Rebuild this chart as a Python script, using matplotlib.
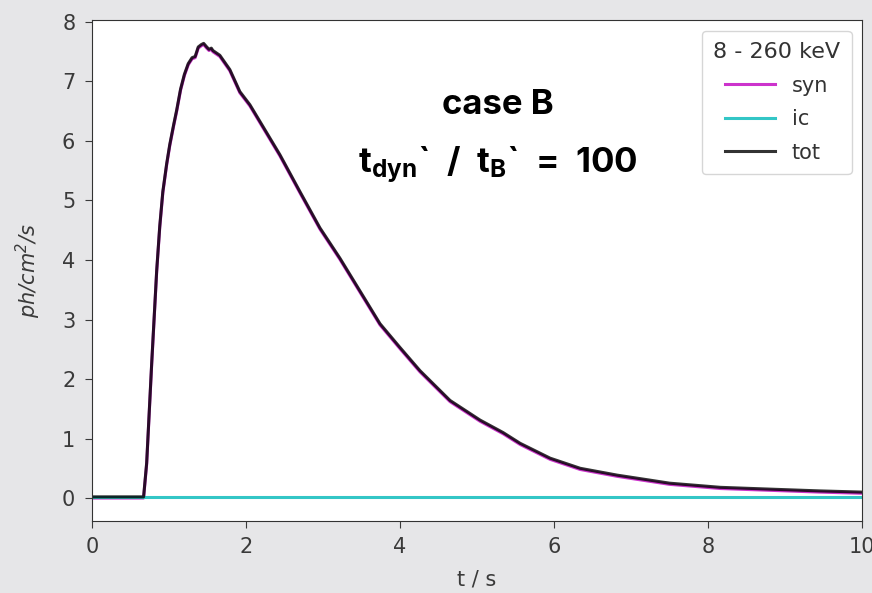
import numpy as np
import matplotlib.pyplot as plt

plt.rcParams['mathtext.default'] = 'regular'

# light curve, 8 - 260 keV band
t = [0.0, 0.67, 0.71, 0.775, 0.84, 0.88, 0.92, 0.97, 1.01, 1.06, 1.10, 1.15, 1.20,
     1.25, 1.30, 1.34, 1.38, 1.42, 1.45, 1.49, 1.52, 1.55, 1.57, 1.66, 1.79, 1.92,
     2.05, 2.18, 2.44, 2.70, 2.96, 3.22, 3.48, 3.74, 4.0, 4.26, 4.65, 5.04, 5.34,
     5.56, 5.95, 6.34, 6.82, 7.25, 7.5, 8.16, 8.8, 9.45, 10.0]
syn = [0.0, 0.0, 0.57, 2.24, 3.80, 4.55, 5.13, 5.60, 5.92, 6.25, 6.50, 6.85, 7.10,
       7.28, 7.38, 7.40, 7.56, 7.60, 7.62, 7.56, 7.52, 7.54, 7.50, 7.42, 7.18, 6.81,
       6.59, 6.31, 5.75, 5.13, 4.52, 4.01, 3.46, 2.91, 2.51, 2.12, 1.62, 1.29, 1.08,
       0.90, 0.65, 0.48, 0.365, 0.28, 0.23, 0.16, 0.13, 0.10, 0.08]
ic_t = [0.0, 10.0]
ic_v = [0.02, 0.02]

ic = np.interp(t, ic_t, ic_v)
tot = np.array(syn) + ic

fig = plt.figure(figsize=(8.72, 5.93), dpi=100, facecolor='#e6e6e8')
ax = fig.add_axes([0.1055, 0.122, 0.883, 0.844])

ax.plot(t, syn, color='#cc33cc', lw=2.2, label='syn')
ax.plot(t, ic, color='#33c6c6', lw=2.2, label='ic')
ax.plot(t, tot, color='k', alpha=0.8, lw=2.2, label='tot')

ax.set_xlim(0, 10)
ax.set_ylim(-0.38, 8.03)
ax.set_xticks([0, 2, 4, 6, 8, 10])
ax.set_yticks(range(9))
ax.tick_params(labelsize=15, colors='#3a3a3a', length=5, pad=7)
for s in ax.spines.values():
    s.set_color('#333333')

ax.set_xlabel('t / s', fontsize=15, color='#3a3a3a', labelpad=9)
ax.set_ylabel('ph/cm$^2$/s', fontsize=15, color='#3a3a3a', style='italic', labelpad=14)

leg = ax.legend(title='8 - 260 keV', loc='upper right', fontsize=15,
                title_fontsize=16, handlelength=2.4, labelspacing=0.65,
                borderpad=0.55, handletextpad=0.8)
for txt in leg.get_texts():
    txt.set_color('#333333')
leg.get_title().set_color('#333333')

ax.text(0.527, 0.83, 'case B', transform=ax.transAxes, ha='center', va='center',
        fontsize=25, fontweight='bold', family='Inter')
ax.text(0.527, 0.712, 't$_{dyn}$`  /  t$_B$`  =  100', transform=ax.transAxes,
        ha='center', va='center', fontsize=25, fontweight='bold', family='Inter')

fig.savefig('out.png', dpi=100, facecolor=fig.get_facecolor())
